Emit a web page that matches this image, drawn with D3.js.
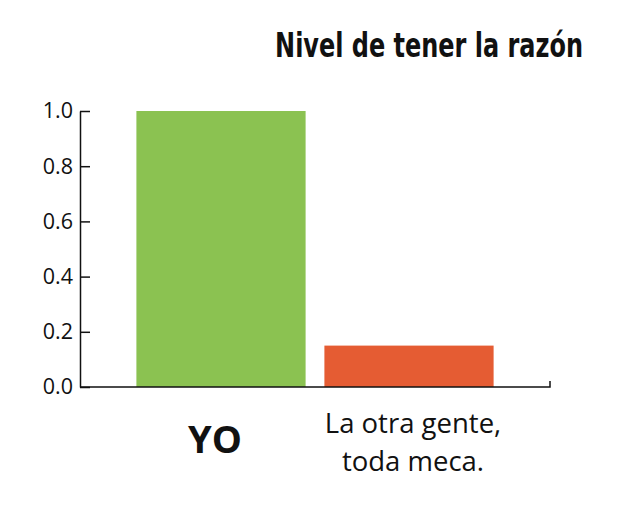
<!DOCTYPE html>
<html>
<head>
<meta charset="utf-8">
<script src="https://cdn.jsdelivr.net/npm/d3@7"></script>
<style>
  body { margin: 0; background: #fff; }
  svg { display: block; }
</style>
</head>
<body>
<div id="chart"></div>
<script>
const categories = ["YO", "La otra gente, toda meca."];
const values = [1.0, 0.15];
const labelLines = [["YO"], ["La otra gente,", "toda meca."]];
const barColors = ["#8bc251", "#e55c33"];
const yTicks = [0, 0.2, 0.4, 0.6, 0.8, 1.0];
const title = "Nivel de tener la razón";

const width = 617, height = 508;
const margin = {left: 80, right: 67, top: 111, bottom: 121};

const svg = d3.select("#chart").append("svg")
  .attr("width", width)
  .attr("height", height);

const x = d3.scaleBand()
  .domain(categories)
  .range([margin.left, width - margin.right])
  .paddingInner(0.1)
  .paddingOuter(0.3);

const y = d3.scaleLinear()
  .domain([0, 1])
  .range([height - margin.bottom, margin.top]);

// bars
svg.selectAll("rect.bar")
  .data(categories)
  .enter().append("rect")
  .attr("class", "bar")
  .attr("x", d => x(d))
  .attr("width", x.bandwidth())
  .attr("y", (d, i) => y(values[i]))
  .attr("height", (d, i) => y(0) - y(values[i]))
  .attr("fill", (d, i) => barColors[i]);

// y axis, ticks pointing into the chart
const yAxis = svg.append("g")
  .attr("transform", `translate(${margin.left},0)`)
  .call(d3.axisLeft(y)
    .tickValues(yTicks)
    .tickFormat(d3.format(".1f"))
    .tickSizeInner(-10)
    .tickSizeOuter(0)
    .tickPadding(7));
yAxis.select(".domain").attr("stroke", "#111").attr("stroke-width", 1.5);
yAxis.selectAll(".tick line").attr("stroke", "#111").attr("stroke-width", 1.5);
yAxis.selectAll(".tick text")
  .attr("fill", "#111")
  .style("font-family", "'Open Sans', 'Noto Sans', sans-serif")
  .style("font-size", "21.5px");

// x axis line with small end tick
const x0 = x.range()[0], x1 = x.range()[1];
svg.append("path")
  .attr("d", `M${x0},${y(0)}H${x1}V${y(0) - 6}`)
  .attr("fill", "none")
  .attr("stroke", "#111")
  .attr("stroke-width", 1.5);

// category labels
const labels = svg.selectAll("text.cat")
  .data(categories)
  .enter().append("text")
  .attr("class", "cat")
  .attr("text-anchor", "middle")
  .attr("fill", "#111")
  .style("font-family", "'Open Sans', 'Noto Sans', sans-serif");

labels.each(function (d, i) {
  const t = d3.select(this);
  const cx = x(d) + x.bandwidth() / 2;
  if (i === 0) {
    t.attr("x", cx - 6).attr("y", 453)
      .style("font-size", "38px")
      .style("font-weight", "bold")
      .text(labelLines[i][0]);
  } else {
    t.style("font-size", "27.5px");
    labelLines[i].forEach((line, j) => {
      t.append("tspan")
        .attr("x", cx + 4)
        .attr("y", 433 + j * 38)
        .text(line);
    });
  }
});

// title: condensed bold, squeezed horizontally to the reference width
const titleG = svg.append("g");
const titleText = titleG.append("text")
  .attr("x", 0)
  .attr("y", 0)
  .attr("text-anchor", "end")
  .attr("fill", "#111")
  .style("font-family", "'Liberation Sans Narrow', 'DejaVu Sans Condensed', sans-serif")
  .style("font-weight", "bold")
  .style("font-size", "33px")
  .text(title);
const natural = titleText.node().getComputedTextLength();
const sx = Math.min(1, 308 / natural);
titleG.attr("transform", `translate(583,57) scale(${sx},1)`);
</script>
</body>
</html>
